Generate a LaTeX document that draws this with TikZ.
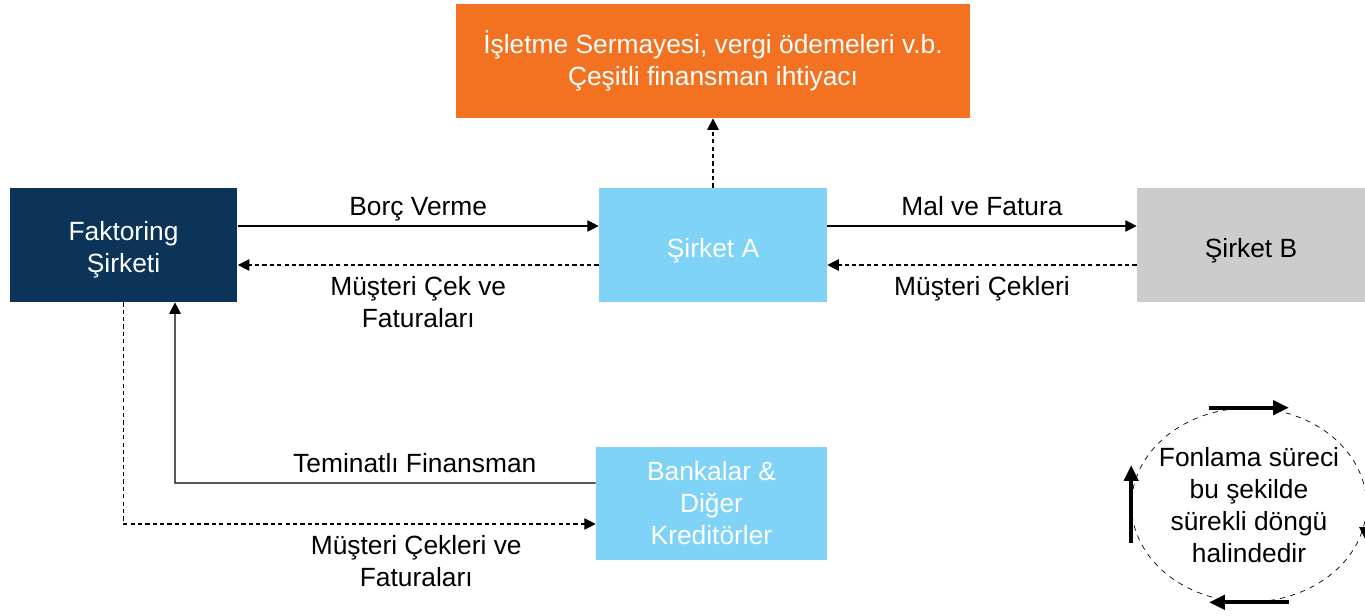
\documentclass[tikz,border=0pt]{standalone}
\usepackage{fontspec}
\setmainfont{Liberation Sans}
\usetikzlibrary{arrows.meta,shapes.geometric}
\definecolor{navy}{RGB}{12,52,88}
\definecolor{sky}{RGB}{127,211,247}
\definecolor{tangerine}{RGB}{243,114,33}
\definecolor{stone}{RGB}{204,204,204}
\newcommand{\lowertext}[1]{\raisebox{-3pt}[\height][\depth]{#1}}
\begin{document}
\begin{tikzpicture}[x=0.02cm, y=-0.02cm, font=\fontsize{15}{18.2}\selectfont,
        box/.style = {inner sep=0pt, minimum width=4.56cm, minimum height=2.28cm, align=center, text=white},
        over/.style = {align=center, above, inner sep=3pt, text depth=0.25em},
        under/.style = {align=center, below, inner sep=6pt},
        arr/.style = {-{Triangle[length=6.5pt,width=6.5pt]}, semithick},
        darr/.style = {arr, dash pattern=on 2.4pt off 1.8pt},
        spin/.style = {-{Triangle[length=9pt,width=8pt]}, line width=2.2pt}]
    \useasboundingbox (0,0) rectangle (1365,615);
    \node[box, fill=navy] (1) at (123.5,245) {\lowertext{\begin{tabular}{@{}c@{}}Faktoring\\Şirketi\end{tabular}}};
    \node[box, fill=sky] (2) at (713,245) {\lowertext{Şirket A}};
    \node[box, fill=stone, text=black] (3) at (1251,245) {\lowertext{Şirket B}};
    \node[box, fill=tangerine, minimum width=10.28cm] (4) at (713,61) {İşletme Sermayesi, vergi ödemeleri v.b.\\Çeşitli finansman ihtiyacı};
    \node[box, fill=sky, minimum width=4.62cm, minimum height=2.26cm] (5) at (711.5,503.5) {Bankalar \&\\Diğer\\Kreditörler};
    \node[draw, dashed, ellipse, inner xsep=-0.14cm, inner ysep=0pt, minimum width=4.56cm, minimum height=3.88cm, align=center] (6) at (1249,505) {Fonlama süreci\\bu şekilde\\sürekli döngü\\halindedir};
    \draw[arr] ([yshift=0.38cm]1.east) -- node[over] {Borç Verme} ([yshift=0.38cm]2.west);
    \draw[darr] ([yshift=-0.4cm]2.west) -- node[under] {Müşteri Çek ve\\Faturaları} ([yshift=-0.4cm]1.east);
    \draw[arr] ([yshift=0.38cm]2.east) -- node[over] {Mal ve Fatura} ([yshift=0.38cm]3.west);
    \draw[darr] ([yshift=-0.4cm]3.west) -- node[under] {Müşteri Çekleri} ([yshift=-0.4cm]2.east);
    \draw[darr] (2.north) -- (4.south);
    \draw[arr] ([yshift=0.41cm]5.west) -- node[over, pos=0.43] {Teminatlı Finansman} (175,483) -- (1.south -| 175,483);
    \draw[darr] (1.south) |- node[under, pos=0.81] {Müşteri Çekleri ve\\Faturaları} ([yshift=-0.41cm]5.west);
    \draw[spin] ([xshift=-0.8cm]6.north) -- ([xshift=0.8cm]6.north);
    \draw[spin] ([xshift=0.8cm]6.south) -- ([xshift=-0.8cm]6.south);
    \draw[spin] ([yshift=-0.76cm]6.west) -- ([yshift=0.8cm]6.west);
    \draw[spin] ([yshift=0.8cm]6.east) -- ([yshift=-0.76cm]6.east);
\end{tikzpicture}
\end{document}
